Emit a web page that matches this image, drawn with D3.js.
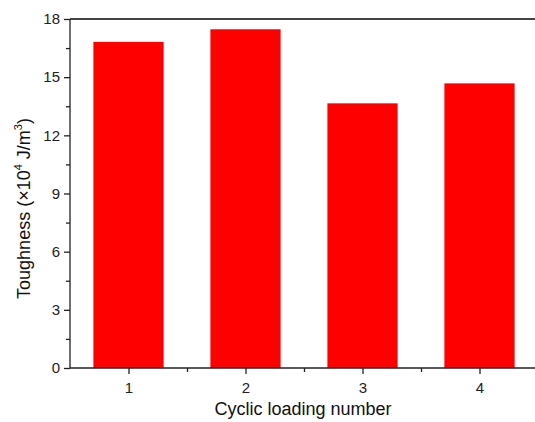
<!DOCTYPE html>
<html lang="en">
<head>
  <meta charset="UTF-8">
  <title>Toughness vs cyclic loading number</title>
  <script src="https://d3js.org/d3.v7.min.js"></script>
  <style>
    body { margin: 0; background: #fff; }
    #chart { display: block; }
    .axis text { font-family: "Liberation Sans", Arial, sans-serif; font-size: 15px; fill: #222; }
    .axis path, .axis line { stroke: #222; stroke-width: 1.3; }
    .title { font-family: "Liberation Sans", Arial, sans-serif; font-size: 18px; fill: #111; }
  </style>
</head>
<body>
  <svg id="chart" width="535" height="422"></svg>
  <script>
    const cycles = [1, 2, 3, 4];
    const toughness = [16.82, 17.47, 13.65, 14.68];
    const yTicks = [0, 3, 6, 9, 12, 15, 18];
    const yMinorTicks = [1.5, 4.5, 7.5, 10.5, 13.5, 16.5];
    const xMinorTicks = [1.5, 2.5, 3.5];

    const svg = d3.select("#chart");
    const margin = { left: 70, top: 19, right: -3, bottom: 54 };
    const width = 535, height = 422;

    const x = d3.scaleLinear()
      .domain([0.5, 4.5])
      .range([margin.left, width - margin.right]);

    const y = d3.scaleLinear()
      .domain([0, 18])
      .range([height - margin.bottom, margin.top]);

    const barWidth = (x(2) - x(1)) * 0.6;

    // bars
    svg.append("g")
      .selectAll("rect")
      .data(cycles)
      .join("rect")
      .attr("x", (d) => x(d) - barWidth / 2)
      .attr("y", (d, i) => y(toughness[i]))
      .attr("width", barWidth)
      .attr("height", (d, i) => y(0) - y(toughness[i]))
      .attr("fill", "#ff0000");

    // top frame line
    svg.append("line")
      .attr("x1", x(0.5))
      .attr("x2", x(4.5))
      .attr("y1", y(18))
      .attr("y2", y(18))
      .attr("stroke", "#444")
      .attr("stroke-width", 2);

    // x axis
    const xAxis = svg.append("g")
      .attr("class", "axis")
      .attr("transform", `translate(0,${y(0)})`)
      .call(d3.axisBottom(x).tickValues(cycles).tickFormat(d3.format("d")).tickSize(6).tickPadding(8));
    xAxis.select(".domain").attr("d", `M${x(0.5)},0H${x(4.5)}`);

    svg.append("g")
      .attr("class", "axis")
      .attr("transform", `translate(0,${y(0)})`)
      .call(d3.axisBottom(x).tickValues(xMinorTicks).tickFormat("").tickSize(4))
      .select(".domain").remove();

    // y axis
    const yAxis = svg.append("g")
      .attr("class", "axis")
      .attr("transform", `translate(${x(0.5)},0)`)
      .call(d3.axisLeft(y).tickValues(yTicks).tickSize(6).tickPadding(4));
    yAxis.select(".domain").attr("d", `M0,${y(0)}V${y(18)}`);

    svg.append("g")
      .attr("class", "axis")
      .attr("transform", `translate(${x(0.5)},0)`)
      .call(d3.axisLeft(y).tickValues(yMinorTicks).tickFormat("").tickSize(4))
      .select(".domain").remove();

    // axis titles
    svg.append("text")
      .attr("class", "title")
      .attr("x", 303)
      .attr("y", 415)
      .attr("text-anchor", "middle")
      .text("Cyclic loading number");

    const yTitle = svg.append("text")
      .attr("class", "title")
      .attr("transform", `translate(30,${(y(0) + y(18)) / 2 + 15}) rotate(-90)`)
      .attr("text-anchor", "middle");
    yTitle.append("tspan").text("Toughness (×10");
    yTitle.append("tspan").attr("font-size", "11px").attr("dy", -8).text("4");
    yTitle.append("tspan").attr("dy", 8).text(" J/m");
    yTitle.append("tspan").attr("font-size", "11px").attr("dy", -8).text("3");
    yTitle.append("tspan").attr("dy", 8).text(")");
  </script>
</body>
</html>
